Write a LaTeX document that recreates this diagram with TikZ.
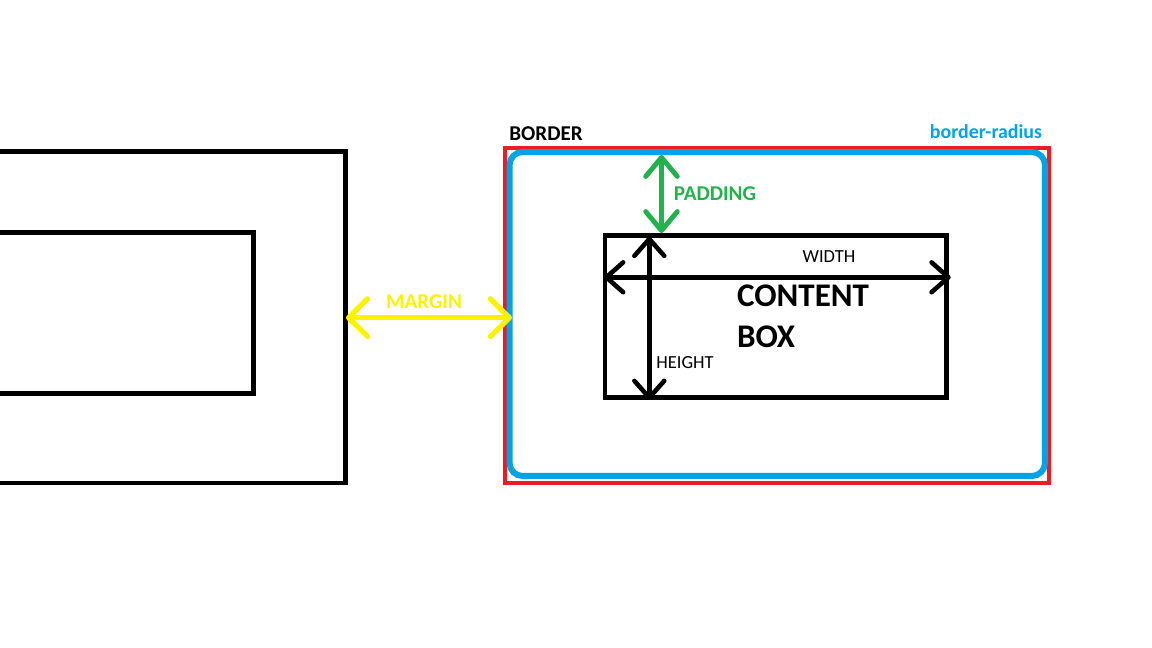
\documentclass[tikz,border=0pt]{standalone}
\usepackage{fontspec}
\setmainfont{Carlito}
\usetikzlibrary{arrows.meta}
\definecolor{pred}{HTML}{ED1C24}
\definecolor{pblue}{HTML}{00A2E8}
\definecolor{pgreen}{HTML}{22B14C}
\definecolor{pyellow}{HTML}{FFF200}
\begin{document}
\begin{tikzpicture}[x=0.02cm,y=-0.02cm,
    >={Straight Barb[length=9.6pt,width=17pt,round]},
    box/.style={rectangle,draw,line width=2.6pt,inner sep=0pt},
    lbl/.style={inner sep=0pt,font=\bfseries\fontsize{12}{14}\selectfont},
    small/.style={inner sep=0pt,font=\fontsize{10.5}{12}\selectfont},
    big/.style={inner sep=0pt,anchor=west,font=\bfseries\fontsize{18.8}{22}\selectfont}]

    \useasboundingbox (0,0) rectangle (1152,648);
    \clip (0,0) rectangle (1152,648);

    % neighbour box
    \node[box,
          minimum width = 7.31cm,
          minimum height = 6.63cm
          ] (outer) at (162.75,317.25) {};
    \node[box,
          minimum width = 5.47cm,
          minimum height = 3.22cm
          ] (inner) at (116.75,313) {};

    % border + radius
    \node[rectangle,
          draw = pred,
          line width = 2.3pt,
          minimum width = 10.88cm,
          minimum height = 6.7cm
          ] (brd) at (777,315.5) {};
    \node[rectangle,
          draw = pblue,
          line width = 3.4pt,
          rounded corners = 0.26cm,
          minimum width = 10.71cm,
          minimum height = 6.48cm
          ] (rad) at (777.25,314) {};

    % content box
    \node[box,
          minimum width = 6.83cm,
          minimum height = 3.24cm
          ] (cbox) at (775.75,316.5) {};

    \node[lbl] (lbrd) at (546,134) {BORDER};
    \node[lbl,text=pblue,font=\bfseries\fontsize{11.3}{13}\selectfont] (lrad) at (986,132) {border-radius};
    \node[lbl,text=pgreen] (lpad) at (715,194) {PADDING};
    \node[lbl,text=pyellow] (lmar) at (424,301.5) {MARGIN};
    \node[small] (lwid) at (829,256.5) {WIDTH};
    \node[small] (lhei) at (685,362.5) {HEIGHT};
    \node[big] (lcont) at (736.7,295.5) {CONTENT};
    \node[big] (lbox) at (736.7,336.3) {BOX};

    \coordinate (ptop) at (661.5,155);
    \coordinate (pbot) at (661.5,233);
    \coordinate (mleft) at (346,317.7);
    \coordinate (mright) at (512,317.7);
    \coordinate (wleft) at (604,277.3);
    \coordinate (wright) at (950.7,277.3);
    \coordinate (htop) at (649.3,236.7);
    \coordinate (hbot) at (649.3,400);

    \path[<->,line width=2.6pt]
    %content arrows
    (wleft) edge [] (wright)
    (htop) edge [] (hbot)
    %padding and margin
    (ptop) edge [draw=pgreen,line width=2.8pt,
                 >={Straight Barb[length=10.8pt,width=18pt,round]}] (pbot)
    (mleft) edge [draw=pyellow,line width=3pt,
                  >={Straight Barb[length=10.8pt,width=21.5pt,round]}] (mright);

\end{tikzpicture}
\end{document}
